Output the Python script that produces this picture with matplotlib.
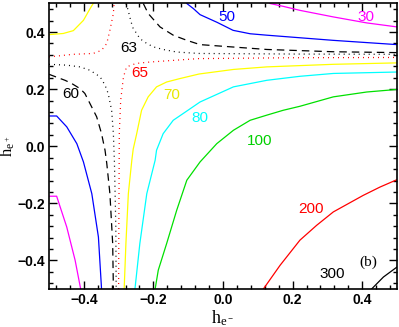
import matplotlib
matplotlib.use("Agg")
import matplotlib.pyplot as plt
from matplotlib.ticker import MultipleLocator

# Contour lines: (h_e-, h_e+) points for each level
c30_a_x = [0.135, 0.173, 0.221, 0.317, 0.413, 0.5]
c30_a_y = [0.5, 0.49, 0.476, 0.453, 0.432, 0.418]
c30_b_x = [-0.5, -0.478, -0.449, -0.425, -0.409]
c30_b_y = [-0.175, -0.175, -0.283, -0.399, -0.5]

c50_a_x = [-0.104, -0.085, -0.066, -0.017, 0.029, 0.078, 0.126, 0.221, 0.316, 0.414, 0.5]
c50_a_y = [0.5, 0.482, 0.461, 0.434, 0.406, 0.394, 0.389, 0.380, 0.371, 0.363, 0.356]
c50_b_x = [-0.5, -0.478, -0.449, -0.420, -0.401, -0.377, -0.358, -0.349]
c50_b_y = [0.106, 0.106, 0.068, 0.009, -0.055, -0.166, -0.318, -0.5]

c60_a_x = [-0.229, -0.215, -0.181, -0.143, -0.104, -0.066, 0.126, 0.317, 0.5]
c60_a_y = [0.5, 0.465, 0.418, 0.389, 0.371, 0.356, 0.339, 0.331, 0.328]
c60_b_x = [-0.5, -0.454, -0.435, -0.411, -0.397, -0.387, -0.363, -0.349, -0.339, -0.334, -0.325, -0.317, -0.315]
c60_b_y = [0.252, 0.231, 0.220, 0.202, 0.185, 0.161, 0.103, 0.044, -0.014, -0.06, -0.166, -0.341, -0.5]

c63_a_x = [-0.279, -0.274, -0.269, -0.264, -0.258, -0.248, -0.239, -0.219, -0.2, -0.172, -0.133, -0.095, -0.069, 0.2, 0.5]
c63_a_y = [0.5, 0.482, 0.459, 0.435, 0.412, 0.395, 0.377, 0.360, 0.348, 0.339, 0.330, 0.327, 0.325, 0.323, 0.322]
c63_b_x = [-0.5, -0.449, -0.411, -0.382, -0.353, -0.339, -0.330, -0.320, -0.315, -0.312, -0.308, -0.307]
c63_b_y = [0.287, 0.284, 0.278, 0.266, 0.243, 0.214, 0.185, 0.126, 0.044, -0.055, -0.283, -0.5]

c65_a_x = [-0.5, -0.431, -0.373, -0.349, -0.334, -0.325, -0.315, -0.313]
c65_a_y = [0.313, 0.322, 0.325, 0.336, 0.360, 0.406, 0.465, 0.5]
c65_b_x = [-0.30, -0.299, -0.298, -0.294, -0.286, -0.277, -0.25, -0.21, -0.07, 0.2, 0.5]
c65_b_y = [-0.5, -0.2, 0.044, 0.161, 0.243, 0.278, 0.29, 0.295, 0.307, 0.310, 0.311]

c70_a_x = [-0.5, -0.459, -0.430, -0.401, -0.382, -0.373]
c70_a_y = [0.391, 0.395, 0.405, 0.441, 0.482, 0.5]
c70_b_x = [-0.284, -0.279, -0.272, -0.262, -0.258, -0.248, -0.234, -0.215, -0.191, -0.162, -0.124,
           -0.069, 0.030, 0.126, 0.317, 0.5]
c70_b_y = [-0.5, -0.341, -0.166, -0.049, -0.01, 0.044, 0.126, 0.173, 0.208, 0.225, 0.237,
           0.253, 0.269, 0.278, 0.287, 0.292]

c80_x = [-0.253, -0.239, -0.219, -0.195, -0.191, -0.172, -0.143, -0.114, -0.066, 0.030, 0.126, 0.221, 0.317, 0.5]
c80_y = [-0.5, -0.341, -0.166, -0.049, -0.014, 0.044, 0.091, 0.115, 0.155, 0.208, 0.231, 0.245, 0.255, 0.260]

c100_x = [-0.195, -0.186, -0.162, -0.133, -0.104, -0.066, -0.018, 0.030, 0.078, 0.126, 0.173, 0.221, 0.317, 0.413, 0.5]
c100_y = [-0.5, -0.434, -0.341, -0.224, -0.119, -0.055, 0.009, 0.056, 0.091, 0.109, 0.126, 0.140, 0.173, 0.190, 0.199]

c200_x = [0.116, 0.164, 0.221, 0.269, 0.317, 0.403, 0.451, 0.5]
c200_y = [-0.5, -0.417, -0.329, -0.277, -0.230, -0.172, -0.143, -0.117]

c300_x = [0.427, 0.461, 0.5]
c300_y = [-0.5, -0.458, -0.423]

# contour labels: text, x, y, colour
labels = [("50", 0.011, 0.452, "blue"), ("30", 0.411, 0.452, "magenta"),
          ("63", -0.270, 0.343, "black"), ("65", -0.239, 0.256, "red"),
          ("60", -0.437, 0.182, "black"), ("70", -0.147, 0.179, "#e8e800"),
          ("80", -0.066, 0.100, "cyan"), ("100", 0.106, 0.018, "#00d000"),
          ("200", 0.253, -0.221, "red"), ("300", 0.313, -0.449, "black")]

fig = plt.figure(figsize=(3.99, 3.27), dpi=100)
ax = fig.add_axes([0.1228, 0.1162, 0.8722, 0.8731])

dot = (0, (0.8, 3.2))
dash = (0, (6, 4))
lw = 0.9

ax.plot(c30_a_x, c30_a_y, color="magenta", lw=lw)
ax.plot(c30_b_x, c30_b_y, color="magenta", lw=lw)
ax.plot(c50_a_x, c50_a_y, color="blue", lw=lw)
ax.plot(c50_b_x, c50_b_y, color="blue", lw=lw)
ax.plot(c60_a_x, c60_a_y, color="black", lw=lw, linestyle=dash)
ax.plot(c60_b_x, c60_b_y, color="black", lw=lw, linestyle=dash)
ax.plot(c63_a_x, c63_a_y, color="black", lw=lw, linestyle=dot)
ax.plot(c63_b_x, c63_b_y, color="black", lw=lw, linestyle=dot)
ax.plot(c65_a_x, c65_a_y, color="red", lw=lw, linestyle=dot)
ax.plot(c65_b_x, c65_b_y, color="red", lw=lw, linestyle=dot)
ax.plot(c70_a_x, c70_a_y, color="yellow", lw=lw)
ax.plot(c70_b_x, c70_b_y, color="yellow", lw=lw)
ax.plot(c80_x, c80_y, color="cyan", lw=lw)
ax.plot(c100_x, c100_y, color="#00e000", lw=lw)
ax.plot(c200_x, c200_y, color="red", lw=lw)
ax.plot(c300_x, c300_y, color="black", lw=lw)

for txt, x, y, col in labels:
    ax.text(x, y, txt, color=col, fontsize=11, family="Liberation Sans",
            ha="center", va="center")
ax.text(0.417, -0.406, "(b)", fontsize=11, family="Liberation Serif",
        ha="center", va="center")

ax.set_xlim(-0.5, 0.5)
ax.set_ylim(-0.5, 0.5)
ax.xaxis.set_major_locator(MultipleLocator(0.2))
ax.yaxis.set_major_locator(MultipleLocator(0.2))
ax.xaxis.set_minor_locator(MultipleLocator(0.04))
ax.yaxis.set_minor_locator(MultipleLocator(0.04))
ax.tick_params(which="both", direction="in", top=True, right=True, width=1)
ax.tick_params(which="major", length=6, labelsize=10, pad=3)
ax.tick_params(which="minor", length=3)
for lab in ax.get_xticklabels() + ax.get_yticklabels():
    lab.set_fontfamily("Liberation Sans")
    lab.set_fontweight("bold")
for s in ax.spines.values():
    s.set_linewidth(1.2)

ax.set_xlabel(r"$\mathregular{h_{e^-}}$", family="Liberation Serif", fontsize=13)
ax.set_ylabel(r"$\mathregular{h_{e^+}}$", family="Liberation Serif", fontsize=12)
ax.xaxis.set_label_coords(0.5, -0.068)
ax.yaxis.set_label_coords(-0.092, 0.5)

fig.savefig("out.png", dpi=100)
